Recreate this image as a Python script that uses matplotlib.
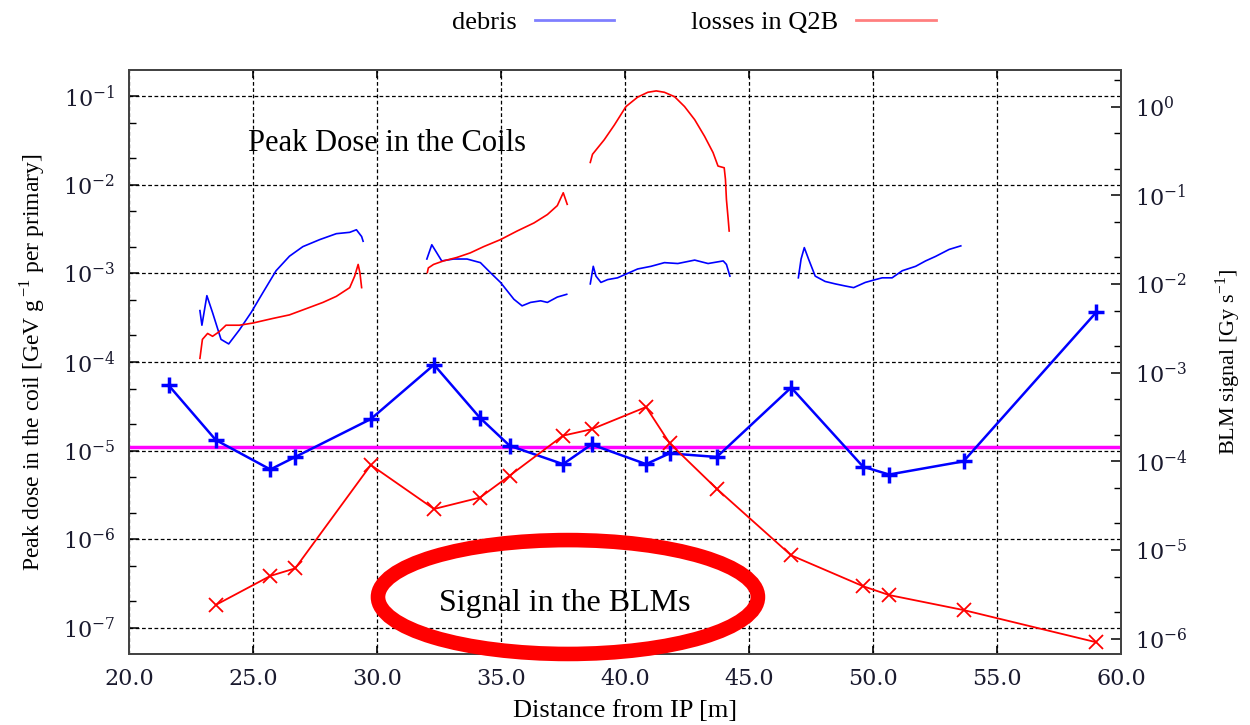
import math
import matplotlib.pyplot as plt
from matplotlib.patches import Ellipse
from matplotlib.ticker import FixedLocator, FormatStrFormatter, NullFormatter, FuncFormatter, MultipleLocator

plt.rcParams['font.family'] = ['Liberation Serif', 'DejaVu Serif']
plt.rcParams['mathtext.fontset'] = 'dejavuserif'

# ---- peak dose in the coils (left axis, GeV/g per primary) ----
debris_x1 = [22.86, 22.94, 23.14, 23.37, 23.71, 24.02, 24.45, 24.92, 25.39, 25.93, 26.47, 27.01, 27.69, 28.36, 28.90, 29.17, 29.38, 29.44]
debris_y1 = [3.8e-4, 2.6e-4, 5.6e-4, 3.6e-4, 1.8e-4, 1.6e-4, 2.3e-4, 3.6e-4, 6.0e-4, 1.07e-3, 1.56e-3, 2.0e-3, 2.4e-3, 2.8e-3, 2.9e-3, 3.1e-3, 2.6e-3, 2.3e-3]
debris_x2 = [32.01, 32.21, 32.61, 33.09, 33.63, 34.17, 34.57, 34.98, 35.52, 35.85, 36.19, 36.60, 36.87, 37.27, 37.65]
debris_y2 = [1.45e-3, 2.1e-3, 1.38e-3, 1.45e-3, 1.45e-3, 1.32e-3, 1.02e-3, 7.9e-4, 5.1e-4, 4.3e-4, 4.7e-4, 4.9e-4, 4.7e-4, 5.4e-4, 5.8e-4]
debris_x3 = [38.60, 38.72, 38.83, 39.03, 39.30, 39.70, 40.04, 40.51, 41.05, 41.59, 42.13, 42.81, 43.35, 43.96, 44.09, 44.23]
debris_y3 = [7.6e-4, 1.2e-3, 9.3e-4, 7.9e-4, 8.5e-4, 8.9e-4, 9.8e-4, 1.12e-3, 1.2e-3, 1.32e-3, 1.29e-3, 1.41e-3, 1.29e-3, 1.38e-3, 1.26e-3, 9.3e-4]
debris_x4 = [46.99, 47.10, 47.23, 47.40, 47.67, 48.07, 48.48, 48.88, 49.22, 49.69, 50.10, 50.37, 50.77, 51.18, 51.72, 52.12, 52.52, 53.07, 53.54]
debris_y4 = [8.9e-4, 1.45e-3, 1.95e-3, 1.45e-3, 9.3e-4, 8.1e-4, 7.6e-4, 7.2e-4, 6.9e-4, 7.9e-4, 8.5e-4, 8.9e-4, 8.9e-4, 1.07e-3, 1.2e-3, 1.38e-3, 1.55e-3, 1.86e-3, 2.04e-3]

losses_x1 = [22.86, 22.96, 23.17, 23.37, 23.64, 23.91, 24.45, 24.99, 25.80, 26.47, 27.15, 27.82, 28.36, 28.90, 29.10, 29.24, 29.31, 29.38]
losses_y1 = [1.1e-4, 1.8e-4, 2.1e-4, 1.95e-4, 2.2e-4, 2.6e-4, 2.6e-4, 2.75e-4, 3.1e-4, 3.4e-4, 4.0e-4, 4.7e-4, 5.5e-4, 6.9e-4, 9.3e-4, 1.26e-3, 1.02e-3, 6.9e-4]
losses_x2 = [32.03, 32.07, 32.28, 32.68, 33.22, 33.76, 34.30, 34.98, 35.65, 36.33, 36.87, 37.27, 37.51, 37.67]
losses_y2 = [1.02e-3, 1.15e-3, 1.26e-3, 1.38e-3, 1.51e-3, 1.7e-3, 2.0e-3, 2.4e-3, 3.0e-3, 3.7e-3, 4.6e-3, 5.8e-3, 8.1e-3, 6.0e-3]
losses_x3 = [38.60, 38.69, 39.16, 39.57, 40.04, 40.51, 40.92, 41.26, 41.59, 42.00, 42.40, 42.81, 43.21, 43.55, 43.75, 44.00, 44.05, 44.09, 44.16, 44.20]
losses_y3 = [1.78e-2, 2.2e-2, 3.2e-2, 4.7e-2, 7.6e-2, 9.7e-2, 0.110, 0.114, 0.110, 9.8e-2, 7.6e-2, 5.4e-2, 3.5e-2, 2.3e-2, 1.62e-2, 1.55e-2, 1.15e-2, 6.8e-3, 4.1e-3, 3.0e-3]

# ---- signal in the BLMs (right axis, Gy/s) ----
blm_x = [21.6, 23.5, 25.7, 26.7, 29.75, 32.3, 34.15, 35.35, 37.5, 38.65, 40.85, 41.8, 43.7, 46.7, 49.6, 50.65, 53.65, 59.0]
blm_debris = [7.2e-4, 1.74e-4, 8.1e-5, 1.12e-4, 3.0e-4, 1.23e-3, 3.1e-4, 1.5e-4, 9.3e-5, 1.55e-4, 9.3e-5, 1.23e-4, 1.12e-4, 6.8e-4, 8.7e-5, 7.1e-5, 1.0e-4, 4.8e-3]
blm_losses = [2.4e-6, 5.1e-6, 6.2e-6, 9.1e-5, 2.9e-5, 3.9e-5, 6.9e-5, 1.95e-4, 2.3e-4, 4.1e-4, 1.6e-4, 4.9e-5, 8.7e-6, 3.9e-6, 3.1e-6, 2.1e-6, 9.1e-7]
blm_threshold = 1.45e-4

left_decades = [1e-7, 1e-6, 1e-5, 1e-4, 1e-3, 1e-2, 1e-1]
right_decades = [1e-6, 1e-5, 1e-4, 1e-3, 1e-2, 1e-1, 1e0]

fig = plt.figure(figsize=(12.5, 7.25), dpi=100)
ax = fig.add_axes([0.1032, 0.0979, 0.7936, 0.8055])
ax2 = ax.twinx()

blue = '#0000ff'
red = '#ff0000'

# coil curves
deb_lines = []
for xs, ys in [(debris_x1, debris_y1), (debris_x2, debris_y2), (debris_x3, debris_y3), (debris_x4, debris_y4)]:
    deb_lines += ax.plot(xs, ys, color=blue, lw=1.2)
loss_lines = []
for xs, ys in [(losses_x1, losses_y1), (losses_x2, losses_y2), (losses_x3, losses_y3)]:
    loss_lines += ax.plot(xs, ys, color=red, lw=1.2)

# BLM signals
ax2.axhline(blm_threshold, color='#ff00ff', lw=2.5, zorder=1)
ax2.plot(blm_x, blm_debris, color=blue, lw=1.8, marker='+', ms=11, mew=2.5, zorder=3)
ax2.plot(blm_x[1:], blm_losses, color=red, lw=1.3, marker='x', ms=10, mew=1.3, zorder=3)

ax.set_xlim(20, 60)
ax.set_yscale('log')
ax.set_ylim(5.1e-8, 0.196)
ax2.set_yscale('log')
ax2.set_ylim(6.7e-7, 2.6)

pow_fmt = FuncFormatter(lambda v, p: r'$10^{%d}$' % round(math.log10(v)))
ax.xaxis.set_major_locator(MultipleLocator(5))
ax.xaxis.set_major_formatter(FormatStrFormatter('%.1f'))
for a, decs in [(ax, left_decades), (ax2, right_decades)]:
    lo, hi = a.get_ylim()
    minors = [d * s for d in [decs[0] / 10] + decs for s in (2, 5) if lo <= d * s <= hi]
    a.yaxis.set_major_locator(FixedLocator(decs))
    a.yaxis.set_minor_locator(FixedLocator(minors))
    a.yaxis.set_minor_formatter(NullFormatter())
    a.yaxis.set_major_formatter(pow_fmt)

ax.tick_params(axis='x', which='both', direction='in', top=True, length=6, width=1.2, pad=10,
               labelsize=16, labelfontfamily='DejaVu Serif', labelcolor='#1a1a2e')
ax.tick_params(axis='y', which='major', direction='in', length=7, width=1.1, labelsize=16, pad=10,
               labelcolor='#1a1a2e')
ax.tick_params(axis='y', which='minor', direction='in', length=5, width=1.0)
ax2.tick_params(axis='y', which='major', direction='in', length=7, width=1.1, labelsize=16, pad=10,
                labelcolor='#1a1a2e')
ax2.tick_params(axis='y', which='minor', direction='in', length=5, width=1.0)

ax.grid(True, which='major', color='black', linestyle=(0, (3, 2)), lw=0.9)
for sp in list(ax.spines.values()) + list(ax2.spines.values()):
    sp.set_color('#444444')
    sp.set_linewidth(1.4)

ax.set_xlabel('Distance from IP [m]', fontsize=19)
ax.xaxis.set_label_coords(0.5, -0.078)
ax.set_ylabel(r'Peak dose in the coil [GeV g$^{\,\mathregular{-1}}$ per primary]', fontsize=17)
ax.yaxis.set_label_coords(-0.083, 0.5)
ax2.set_ylabel(r'BLM signal [Gy s$^{\mathregular{-1}}$]', fontsize=16)
ax2.yaxis.set_label_coords(1.093, 0.5)

ax.text(0.26, 0.875, 'Peak Dose in the Coils', transform=ax.transAxes, ha='center', va='center', fontsize=22)
ax.text(0.4395, 0.087, 'Signal in the BLMs', transform=ax.transAxes, ha='center', va='center', fontsize=23)

ell = Ellipse((0.4425, 0.0976), 0.383, 0.195, transform=ax.transAxes, fill=False,
              edgecolor=red, lw=10.5, clip_on=False, zorder=5)
ax2.add_patch(ell)

leg = fig.legend([deb_lines[0], loss_lines[0]], ['debris', 'losses in Q2B'], loc='upper center',
                 bbox_to_anchor=(0.555, 1.018), ncol=2, frameon=False, markerfirst=False,
                 fontsize=19, handlelength=3.0, columnspacing=2.9, handletextpad=0.7)
for h in leg.legend_handles:
    h.set_alpha(0.5)
    h.set_linewidth(2)

fig.savefig('out.png', dpi=100)
